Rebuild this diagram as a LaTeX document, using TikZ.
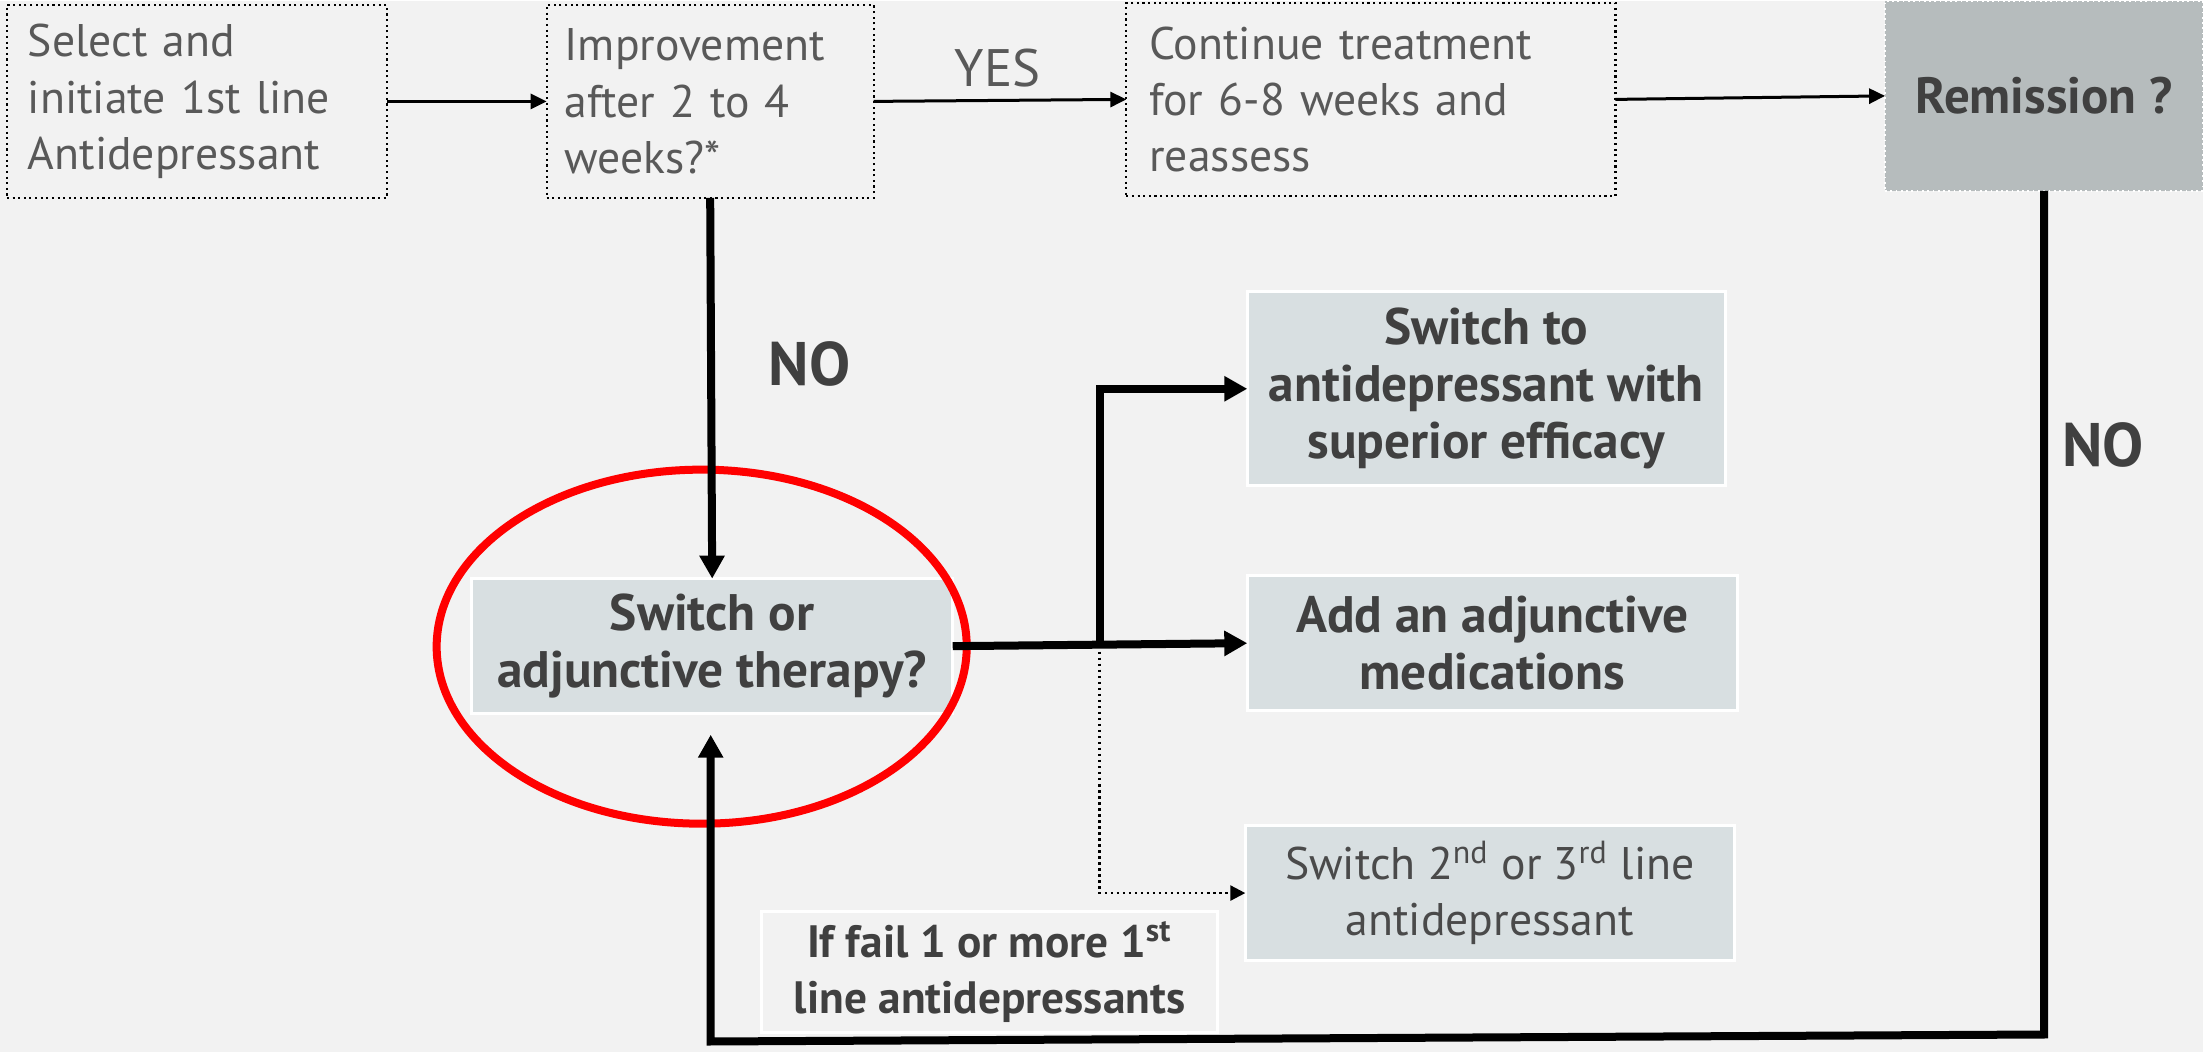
\documentclass[tikz,border=0pt]{standalone}
\usepackage{fontspec}
\setmainfont{PT Sans}
\usetikzlibrary{arrows.meta}
\definecolor{bg}{HTML}{F2F2F2}
\definecolor{boxfill}{HTML}{D8DFE1}
\definecolor{remfill}{HTML}{B6BCBD}
\definecolor{txt}{HTML}{595959}
\definecolor{txtb}{HTML}{404040}
\definecolor{txtm}{HTML}{4A4A4A}
\begin{document}
\begin{tikzpicture}[x=0.01cm,y=-0.01cm,
  base/.style={font=\fontsize{13}{16}\selectfont, inner ysep=0pt, outer sep=0pt},
  plainbox/.style={base, draw=black, densely dotted, line width=0.6pt, fill=bg,
    text=txt, align=left, inner xsep=0.2cm},
  optbox/.style={base, draw=white, line width=0.8pt, fill=boxfill, text=txtb,
    align=center, font=\fontsize{14.6}{16.2}\selectfont\bfseries},
  remark/.style={base, draw=white, densely dotted, line width=0.5pt, fill=remfill,
    text=txtb, font=\fontsize{14.5}{16}\selectfont\bfseries},
  failbox/.style={base, draw=white, line width=0.8pt, fill=bg, text=txtb,
    align=center, font=\fontsize{12.9}{16}\selectfont\bfseries},
  lbl/.style={text=txt, font=\fontsize{15}{18}\selectfont},
  lblb/.style={text=txtb, font=\fontsize{17.5}{20}\selectfont\bfseries},
  thinarr/.style={-{Triangle[length=0.16cm,width=0.15cm]}, line width=0.03cm},
  heavy/.style={-{Triangle[length=0.23cm,width=0.24cm]}, line width=0.08cm},
  dotarr/.style={-{Triangle[length=0.15cm,width=0.15cm]}, line width=0.025cm, densely dotted}]

% canvas
\fill[bg] (0,0) rectangle (2204,1052);

% top row
\node[plainbox, minimum width=3.8cm, minimum height=1.93cm, text width=3.38cm]
  (sel) at (197,100.5) {Select and\\initiate 1st line\\Antidepressant};
\node[plainbox, minimum width=3.27cm, minimum height=1.93cm, text width=2.91cm, inner xsep=0.18cm]
  (imp) at (710.5,100.5) {Improvement\\after 2 to 4\\weeks?*};
\node[plainbox, minimum width=4.89cm, minimum height=1.93cm, text width=4.43cm, inner xsep=0.23cm]
  (cont) at (1371.5,98.5) {Continue treatment\\for 6-8 weeks and\\reassess};
\node[remark, minimum width=3.18cm, minimum height=1.9cm]
  (rem) at (2045,95) {Remission ?};

% decision and options
\node[optbox, minimum width=4.81cm, minimum height=1.35cm]
  (sw) at (712.5,645.5) {Switch or\\adjunctive therapy?};
\node[optbox, minimum width=4.78cm, minimum height=1.94cm]
  (sup) at (1487,388) {Switch to\\antidepressant with\\superior efficacy};
\node[optbox, minimum width=4.9cm, minimum height=1.35cm]
  (add) at (1493,642.5) {Add an adjunctive\\medications};
\node[optbox, font=\fontsize{13}{16}\selectfont, text=txtm, minimum width=4.89cm, minimum height=1.35cm]
  (alt) at (1490.5,892.5) {Switch 2\textsuperscript{nd} or 3\textsuperscript{rd} line\\antidepressant};
\node[failbox, minimum width=4.56cm, minimum height=1.21cm]
  (fail) at (990,971.5) {If fail 1 or more 1\textsuperscript{st}\\line antidepressants};

% highlight ring
\draw[red, line width=0.08cm] (702,646) ellipse [x radius=2.65cm, y radius=1.77cm];

% labels
\node[lbl] (yes) at (998,67) {YES};
\node[lblb] (no1) at (810,363) {NO};
\node[lblb] (no2) at (2104,444) {NO};

% connectors
\draw[thinarr] (sel.east) -- (imp.west);
\draw[thinarr] (imp.east) -- (cont.west);
\draw[thinarr] (cont.east) -- (rem.west);
\draw[heavy] (imp.south) -- (sw.north);
\draw[heavy] (sw.east) -- (add.west);
\coordinate (br) at (1100,645);
\draw[heavy] (br) |- (sup.west);
\draw[dotarr] (br) |- (alt.west);
\coordinate (c1) at (2045,1034);
\coordinate (c2) at (711,1041);
\draw[heavy, shorten >=0.21cm] (rem.south) -- (c1) -- (c2) -- (c2 |- sw.south);
\end{tikzpicture}
\end{document}
